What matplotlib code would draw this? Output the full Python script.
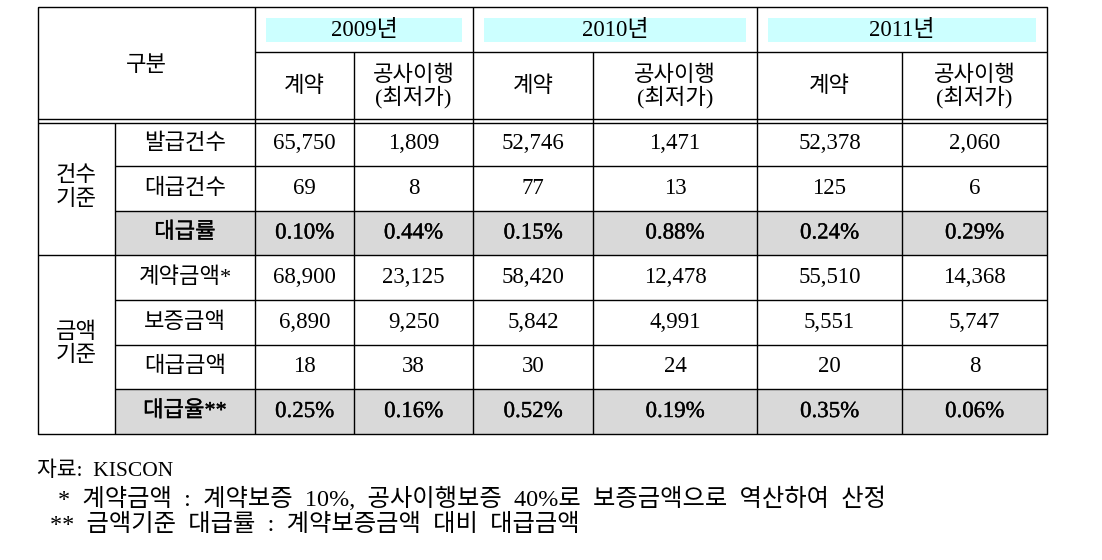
import matplotlib
matplotlib.use("Agg")
import matplotlib.pyplot as plt
import matplotlib.patheffects as pe
from matplotlib.patches import Rectangle

# ---- data ----
years = ["2009년", "2010년", "2011년"]
sub_cols = ["계약", "공사이행\n(최저가)"]
group_labels = ["건수\n기준", "금액\n기준"]
count_rows = ["발급건수", "대급건수", "대급률"]
amount_rows = ["계약금액*", "보증금액", "대급금액", "대급율**"]

issued_cnt = [65750, 1809, 52746, 1471, 52378, 2060]
default_cnt = [69, 8, 77, 13, 125, 6]
default_rate_cnt = [0.10, 0.44, 0.15, 0.88, 0.24, 0.29]
contract_amt = [68900, 23125, 58420, 12478, 55510, 14368]
guarantee_amt = [6890, 9250, 5842, 4991, 5551, 5747]
default_amt = [18, 38, 30, 24, 20, 8]
default_rate_amt = [0.25, 0.16, 0.52, 0.19, 0.35, 0.06]

source_note = "자료:  KISCON"
note1 = "*  계약금액  :  계약보증  10%,  공사이행보증  40%로  보증금액으로  역산하여  산정"
note2 = "**  금액기준  대급률  :  계약보증금액  대비  대급금액"

# ---- style ----
FAM = ["Liberation Serif", "Noto Sans CJK KR"]
CYAN = "#CCFFFF"
GRAY = "#D9D9D9"
LW = 1.0
FS_NUM = 16.5
FS_KR = 16

fig = plt.figure(figsize=(11.02, 5.6), dpi=100)
ax = fig.add_axes([0, 0, 1, 1])
ax.set_xlim(0, 1102); ax.set_ylim(560, 0); ax.axis("off")

# column / row grid (pixel layout)
xL, xG, xR = 38, 115, 255
xs = [255, 354, 473, 593, 757, 902, 1047]
yT, yY, yH = 7, 52, 121
ys = [121, 166, 211, 255, 300, 345, 389, 434]
shaded = [2, 6]

def txt(x, y, s, bold=False, size=FS_KR, ls=1.0):
    t = ax.text(x, y, s, family=FAM, fontsize=size, ha="center", va="center",
                linespacing=ls)
    if bold:
        t.set_path_effects([pe.withStroke(linewidth=0.25, foreground="black")])
    return t

# shaded rows
for r in shaded:
    ax.add_patch(Rectangle((xG, ys[r]), xs[-1] - xG, ys[r + 1] - ys[r],
                           color=GRAY, lw=0, zorder=0))

# year boxes + sub headers
for i, yr in enumerate(years):
    x0, x1 = xs[2 * i], xs[2 * i + 2]
    ax.add_patch(Rectangle((x0 + 11, 18), x1 - x0 - 22, 24, color=CYAN, lw=0, zorder=0))
    txt((x0 + x1) / 2, 30, yr, size=FS_NUM)
    for j, sc in enumerate(sub_cols):
        txt((xs[2 * i + j] + xs[2 * i + j + 1]) / 2, 87, sc, ls=0.95)

txt((xL + xR) / 2, 66, "구분")

# lines
k = dict(color="black", lw=LW, solid_capstyle="butt")
ax.plot([xL, xs[-1], xs[-1], xL, xL], [yT, yT, ys[-1], ys[-1], yT], **k)
ax.plot([xR, xs[-1]], [yY, yY], **k)
ax.plot([xL, xs[-1]], [yH - 1.6, yH - 1.6], **k)
ax.plot([xL, xs[-1]], [yH + 1.6, yH + 1.6], **k)
for i, x in enumerate(xs[:-1]):
    ax.plot([x, x], [yT if i % 2 == 0 else yY, ys[-1]], **k)
ax.plot([xG, xG], [yH + 1.6, ys[-1]], **k)
for y in ys[1:-1]:
    ax.plot([xL if y == ys[3] else xG, xs[-1]], [y, y], **k)

# group labels
txt((xL + xG) / 2, (ys[0] + ys[3]) / 2, group_labels[0], ls=1.2)
txt((xL + xG) / 2, (ys[3] + ys[-1]) / 2, group_labels[1], ls=1.2)

# rows
rows = [
    (count_rows[0], [f"{v:,}" for v in issued_cnt]),
    (count_rows[1], [f"{v:,}" for v in default_cnt]),
    (count_rows[2], [f"{v:.2f}%" for v in default_rate_cnt]),
    (amount_rows[0], [f"{v:,}" for v in contract_amt]),
    (amount_rows[1], [f"{v:,}" for v in guarantee_amt]),
    (amount_rows[2], [f"{v:,}" for v in default_amt]),
    (amount_rows[3], [f"{v:.2f}%" for v in default_rate_amt]),
]
for r, (lab, vals) in enumerate(rows):
    yc = (ys[r] + ys[r + 1]) / 2
    b = r in shaded
    txt((xG + xR) / 2, yc, lab, bold=b)
    for c, v in enumerate(vals):
        txt((xs[c] + xs[c + 1]) / 2, yc, v, bold=b, size=FS_NUM)

# footnotes
ax.text(37, 471, source_note, family=FAM, fontsize=15.5, ha="left", va="center")
ax.text(58, 499, note1, family=FAM, fontsize=17.5, ha="left", va="center")
ax.text(50, 525, note2, family=FAM, fontsize=17.5, ha="left", va="center")

fig.savefig("out.png", dpi=100, facecolor="white")
